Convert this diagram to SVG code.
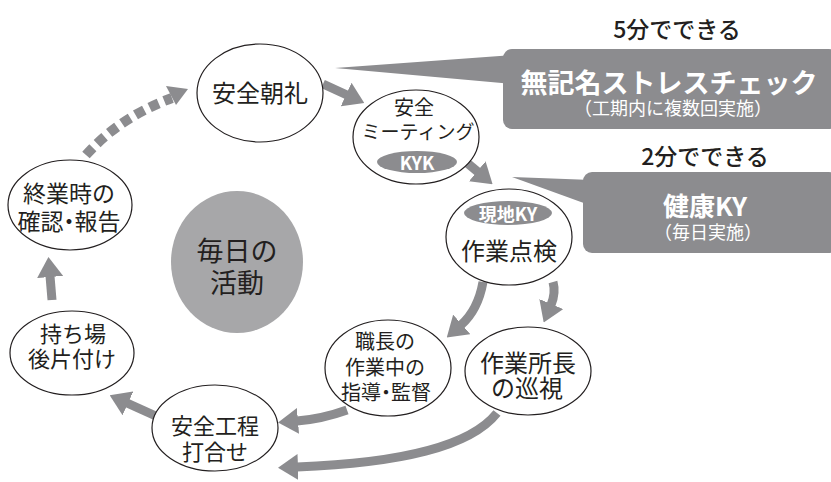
<svg xmlns="http://www.w3.org/2000/svg" width="831" height="482" viewBox="0 0 831 482">
<style>
text{font-family:"Noto Sans CJK JP","Noto Sans",sans-serif;fill:#231f20;text-anchor:middle;dominant-baseline:central}
.node{fill:#fff;stroke:#231f20;stroke-width:1.2}
.pill{fill:#8c8c8f}
.wt{fill:#fff;font-weight:bold}
.sub{fill:#fff}
.box{fill:#8c8c8f}
.hd{font-weight:500}
.arr{fill:none;stroke:#8c8c8f;stroke-width:9}
.dash{fill:none;stroke:#8c8c8f;stroke-width:10;stroke-dasharray:10 6}
</style>
<defs>
<marker id="ah" viewBox="0 0 20 26" refX="1" refY="13" markerWidth="20" markerHeight="26" markerUnits="userSpaceOnUse" orient="auto">
<path d="M0,0 L20,13 L0,26 z" fill="#8c8c8f"/>
</marker>
</defs>

<g id="callout1">
<polygon class="box" points="335,68 512,55 512,84"/>
<rect class="box" x="503" y="49" width="335" height="80" rx="9"/>
<text class="hd" x="677" y="28" font-size="23">5分でできる</text>
<text class="wt" x="669" y="81" font-size="27">無記名ストレスチェック</text>
<text class="sub" x="673" y="107" font-size="18">（工期内に複数回実施）</text>
</g>
<g id="callout2">
<polygon class="box" points="512,177 592,180 592,206"/>
<rect class="box" x="583" y="172" width="255" height="81" rx="9"/>
<text class="hd" x="705" y="155" font-size="23">2分でできる</text>
<text class="wt" x="705" y="204" font-size="26">健康KY</text>
<text class="sub" x="708" y="231" font-size="18">（毎日実施）</text>
</g>

<g id="connectors">
<path class="arr" d="M323,84 L347,95" marker-end="url(#ah)"/>
<path class="arr" d="M466,162 L478,172" marker-end="url(#ah)"/>
<path class="arr" d="M483,282 Q478,310 461,325" marker-end="url(#ah)"/>
<path class="arr" d="M553,282 Q556,293 551,305" marker-end="url(#ah)"/>
<path class="arr" d="M347,410 Q322,419 297,421" marker-end="url(#ah)"/>
<path class="arr" d="M497,413 C470,447 400,463 297,467" marker-end="url(#ah)"/>
<path class="arr" d="M158,417 L127,403" marker-end="url(#ah)"/>
<path class="arr" d="M52,300 L50,276" marker-end="url(#ah)"/>
<path class="dash" d="M86,155 Q120,117 172,98"/>
<path d="M188,89 L166,86 L176,105 z" fill="#8c8c8f"/>
</g>

<g id="center">
<ellipse cx="237" cy="262" rx="66" ry="71" fill="#a7a7a9"/>
<text x="237" y="249" font-size="27">毎日の</text>
<text x="237" y="281" font-size="27">活動</text>
</g>

<g id="n-chorei">
<ellipse class="node" cx="260" cy="93" rx="63" ry="49"/>
<text x="260" y="91" font-size="24">安全朝礼</text>
</g>
<g id="n-meeting">
<ellipse class="node" cx="416" cy="137" rx="63" ry="47"/>
<text x="414" y="106" font-size="20">安全</text>
<text x="418" y="130" font-size="19">ミーティング</text>
<ellipse class="pill" cx="417" cy="162" rx="40" ry="11"/>
<text class="wt" x="417" y="162" font-size="18">KYK</text>
</g>
<g id="n-tenken">
<ellipse class="node" cx="509" cy="237" rx="63" ry="48"/>
<ellipse class="pill" cx="508" cy="213" rx="44" ry="12"/>
<text class="wt" x="508" y="213" font-size="18">現地KY</text>
<text x="509" y="249" font-size="24">作業点検</text>
</g>
<g id="n-shokucho">
<ellipse class="node" cx="388" cy="368" rx="63" ry="48"/>
<text x="385" y="340" font-size="20">職長の</text>
<text x="385" y="366" font-size="20">作業中の</text>
<text x="386" y="391" font-size="20">指導<tspan dx="-5">・</tspan><tspan dx="-5">監督</tspan></text>
</g>
<g id="n-junshi">
<ellipse class="node" cx="528" cy="371" rx="63" ry="44"/>
<text x="528" y="361" font-size="24">作業所長</text>
<text x="527" y="386" font-size="24">の巡視</text>
</g>
<g id="n-koutei">
<ellipse class="node" cx="215" cy="428" rx="63" ry="43"/>
<text x="215" y="424" font-size="22">安全工程</text>
<text x="215" y="450" font-size="22">打合せ</text>
</g>
<g id="n-katazuke">
<ellipse class="node" cx="72" cy="353" rx="62" ry="42"/>
<text x="73" y="332" font-size="22">持ち場</text>
<text x="72" y="357" font-size="22">後片付け</text>
</g>
<g id="n-shugyo">
<ellipse class="node" cx="70" cy="205" rx="62" ry="45"/>
<text x="69" y="192" font-size="23">終業時の</text>
<text x="69" y="220" font-size="23">確認<tspan dx="-6">・</tspan><tspan dx="-6">報告</tspan></text>
</g>
</svg>
